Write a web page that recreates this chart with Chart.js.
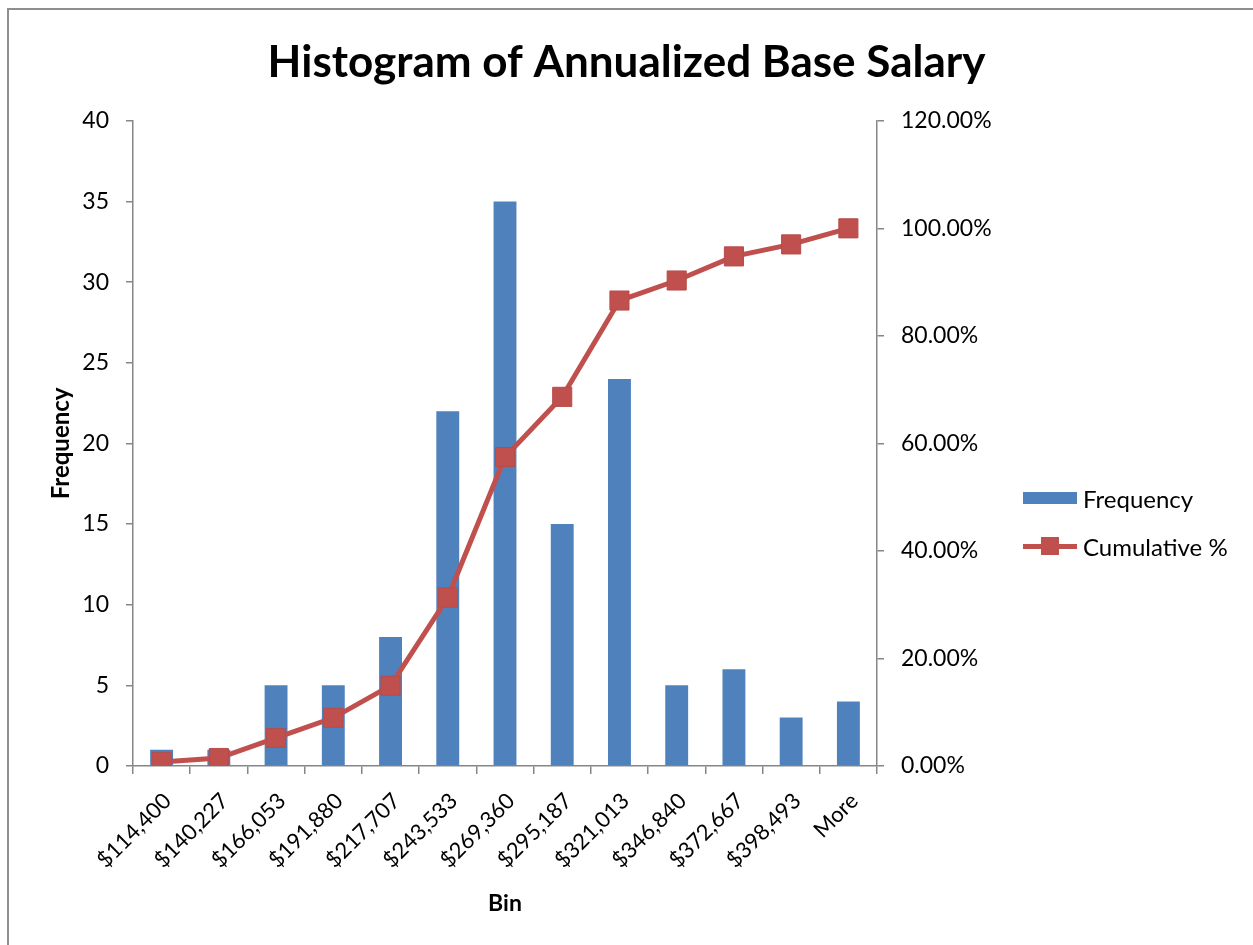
<!DOCTYPE html>
<html>
<head>
<meta charset="utf-8">
<script src="https://cdn.jsdelivr.net/npm/chart.js@4.4.1/dist/chart.umd.min.js"></script>
<style>
  html, body { margin: 0; padding: 0; background: #fff; }
  #wrap { position: relative; width: 1253px; height: 945px; overflow: hidden; }
  #frame { position: absolute; left: 7px; top: 8px; width: 1400px; height: 1100px;
    border: 2px solid #8e8e8e; pointer-events: none; }
  #legend { position: absolute; left: 1023px; top: 474px; font-family: Lato, sans-serif;
    font-size: 24px; color: #000; }
  .item { position: relative; height: 48px; display: flex; align-items: center; }
  .key { position: relative; width: 54px; height: 20px; margin-right: 6px; }
</style>
</head>
<body>
<div id="wrap">
  <canvas id="chart" width="1253" height="945"></canvas>
  <div id="frame"></div>
  <div id="legend"></div>
</div>
<script>
/* global Chart */

const bins = ["$114,400", "$140,227", "$166,053", "$191,880", "$217,707", "$243,533",
  "$269,360", "$295,187", "$321,013", "$346,840", "$372,667", "$398,493", "More"];
const frequency = [1, 1, 5, 5, 8, 22, 35, 15, 24, 5, 6, 3, 4];
const cumulativePct = [0.75, 1.49, 5.22, 8.96, 14.93, 31.34, 57.46, 68.66, 86.57, 90.30, 94.78, 97.01, 100.0];

const BLUE = "#4F81BD";
const RED = "#C0504D";
const AXIS = "#868686";
const FONT = "Lato, sans-serif";

const ctx = document.getElementById("chart");
const chart = new Chart(ctx, {
  type: "bar",
  data: {
    labels: bins,
    datasets: [
      {
        label: "Frequency",
        data: frequency,
        backgroundColor: BLUE,
        barPercentage: 0.4,
        categoryPercentage: 1,
        yAxisID: "y",
        order: 2,
      },
      {
        type: "line",
        label: "Cumulative %",
        data: cumulativePct,
        borderColor: RED,
        backgroundColor: RED,
        borderWidth: 5,
        tension: 0,
        pointStyle: "rect",
        pointRadius: 13.5,
        pointBorderColor: "#B64C49",
        pointBorderWidth: 1,
        yAxisID: "y1",
        order: 1,
      },
    ],
  },
  options: {
    responsive: false,
    animation: false,
    layout: { padding: { left: 0, right: 0, top: 0, bottom: 24 } },
    plugins: {
      legend: { display: false },
      tooltip: { enabled: false },
      title: {
        display: true,
        text: "Histogram of Annualized Base Salary",
        color: "#000",
        font: { family: FONT, size: 44, weight: "bold" },
        padding: { top: 36, bottom: 32 },
      },
    },
    scales: {
      x: {
        afterFit: (s) => { s.height = 945 - 24 - 766; },
        ticks: {
          autoSkip: false,
          maxRotation: 45,
          minRotation: 45,
          color: "#000",
          font: { family: FONT, size: 22 },
          padding: 14,
          labelOffset: 6,
        },
        grid: { offset: true, drawOnChartArea: false, tickLength: 8, color: AXIS, lineWidth: 1.5 },
        border: { display: true, color: AXIS, width: 1.5 },
        title: {
          display: true,
          text: "Bin",
          color: "#000",
          font: { family: FONT, size: 23, weight: "bold" },
          padding: { top: 4, bottom: 4 },
        },
      },
      y: {
        position: "left",
        min: 0,
        max: 40,
        afterFit: (s) => { s.width = 133; },
        ticks: { stepSize: 5, color: "#000", font: { family: FONT, size: 23 }, padding: 17 },
        grid: { drawOnChartArea: false, tickLength: 7, color: AXIS, lineWidth: 1.5 },
        border: { display: true, color: AXIS, width: 1.5 },
        title: {
          display: true,
          text: "Frequency",
          color: "#000",
          font: { family: FONT, size: 24, weight: "bold" },
          padding: { top: 47, bottom: 0 },
        },
      },
      y1: {
        position: "right",
        min: 0,
        max: 120,
        afterFit: (s) => { s.width = 1253 - 877; },
        ticks: {
          stepSize: 20,
          color: "#000",
          font: { family: FONT, size: 23 },
          padding: 17,
          callback: (v) => `${v.toFixed(2)}%`,
        },
        grid: { drawOnChartArea: false, tickLength: 7, color: AXIS, lineWidth: 1.5 },
        border: { display: true, color: AXIS, width: 1.5 },
      },
    },
  },
});

// legend in HTML, built from the datasets
function buildLegend() {
  const box = document.getElementById("legend");
  box.innerHTML = "";
  chart.data.datasets.forEach((ds) => {
    const item = document.createElement("div");
    item.className = "item";
    const key = document.createElement("div");
    key.className = "key";
    if (ds.type === "line") {
      const ln = document.createElement("div");
      ln.style.cssText = `position:absolute;left:0;top:8px;width:54px;height:5px;background:${ds.borderColor}`;
      const sq = document.createElement("div");
      sq.style.cssText = `position:absolute;left:18px;top:1px;width:18px;height:18px;background:${ds.backgroundColor}`;
      key.appendChild(ln);
      key.appendChild(sq);
    } else {
      const rc = document.createElement("div");
      rc.style.cssText = `position:absolute;left:0;top:4px;width:54px;height:12px;background:${ds.backgroundColor}`;
      key.appendChild(rc);
    }
    const txt = document.createElement("span");
    txt.textContent = ds.label;
    item.appendChild(key);
    item.appendChild(txt);
    box.appendChild(item);
  });
}
buildLegend();
</script>
</body>
</html>
